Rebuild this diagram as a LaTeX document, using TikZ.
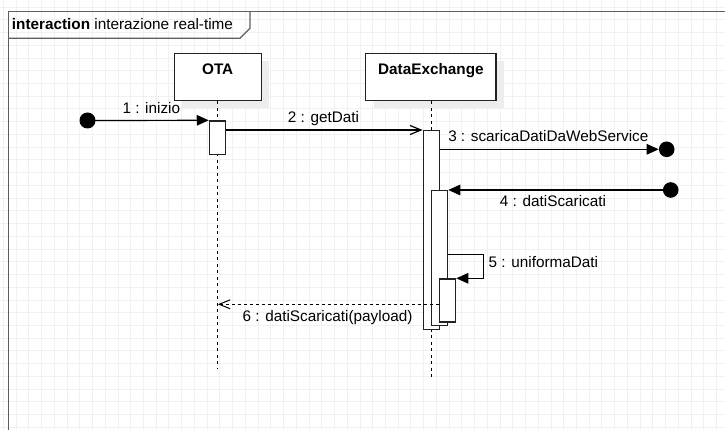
\documentclass[tikz,border=0pt]{standalone}
\usepackage{fontspec}
\setmainfont{Liberation Sans}
\usetikzlibrary{arrows.meta,calc}
\definecolor{gridgray}{HTML}{F1F1F1}
\definecolor{framegray}{HTML}{5E5E5E}
\definecolor{shadowgray}{HTML}{EDEDED}
\definecolor{edgegray}{HTML}{222222}

\begin{document}
\begin{tikzpicture}[x=1pt,y=-1pt,
  txt/.style={font=\fontsize{15.3}{18}\selectfont, inner sep=0pt, anchor=base},
  headbox/.style={draw=edgegray, line width=1.4pt, fill=white, inner sep=0pt},
  actbox/.style={draw=edgegray, line width=1.3pt, fill=white, minimum width=16pt, inner sep=0pt, anchor=north},
  dot/.style={circle, fill=black, inner sep=0pt, minimum size=16pt},
  lifeline/.style={line width=1pt, dash pattern=on 3pt off 3.5pt},
  msg/.style={line width=1.2pt, -{Triangle[length=12pt,width=10.5pt]}},
  call/.style={line width=1.2pt, -{Straight Barb[length=11pt,width=9pt]}},
  reply/.style={line width=1pt, dash pattern=on 3pt off 3pt, -{Straight Barb[length=11pt,width=9pt]}}]

% canvas and grid
\useasboundingbox (0,0) rectangle (725,430);
\fill[white] (-6,-6) rectangle (731,436);
\begin{scope}
\clip (0,0) rectangle (725,430);
\foreach \i in {0,...,56}
  \draw[gridgray, line width=0.7pt] ({3.27+\i*12.735},0) -- ++(0,430);
\foreach \j in {0,...,33}
  \draw[gridgray, line width=0.7pt] (0,{6.95+\j*12.735}) -- ++(725,0);

% interaction frame with its name tab
\draw[framegray, line width=1.6pt] (8.5,440) -- (8.5,11.7) -- (740,11.7);
\end{scope}
\draw[framegray, line width=1.2pt] (8.5,38.3) -- (240,38.3) -- (250,28.3) -- (250,11.7);
\node[txt, anchor=base west] (title) at (11.7,29.3) {\textbf{interaction} interazione real-time};

% lifeline heads
\fill[shadowgray] (182.3,61.3) rectangle (269.3,108.3);
\fill[shadowgray] (373.7,61.3) rectangle (504,108.3);
\node[headbox, minimum width=87pt, minimum height=47.4pt] (ota) at (217.7,77) {};
\node[headbox, minimum width=130.3pt, minimum height=47.4pt] (dx) at (430.9,77) {};
\node[txt] (otaname) at (217.7,74.4) {\textbf{OTA}};
\node[txt] (dxname) at (430.9,74.4) {\textbf{DataExchange}};

% lifelines
\coordinate (otaend) at (217.9,368);
\coordinate (dxend) at (431.4,377);
\draw[lifeline] (ota.south -| otaend) -- (otaend);
\draw[lifeline] (dx.south -| dxend) -- (dxend);

% activations
\node[actbox, minimum height=33.7pt] (otaact) at (217.4,120.3) {};
\node[actbox, minimum height=198.7pt] (dxa) at (431.3,130) {};
\node[actbox, minimum height=135pt] (dxb) at (439.6,190) {};
\node[actbox, minimum height=43pt] (dxc) at (447.6,278.3) {};

% found / lost message ends
\node[dot] (src1) at (87.5,120.5) {};
\node[dot, minimum size=15.6pt] (sink3) at (666.7,149.3) {};
\node[dot, minimum size=15.6pt] (src4) at (670.7,190) {};
\coordinate (loop5) at (483.3,254.3);
\coordinate (ret6) at (217.9,304.3);

% messages
\draw[msg] (src1.center) -- (otaact.north west);
\draw[call] (otaact.east |- dxa.north) -- (dxa.north west);
\draw[msg] (dxa.east |- sink3) -- (sink3.west);
\draw[msg] (src4.center) -- (dxb.north east);
\draw[msg] (dxb.east |- loop5) -- (loop5) |- (dxc.north east);
\draw[reply] (dxc.west |- ret6) -- (ret6);

% message labels
\node[txt] (m1) at (151.3,113.8) {1 : inizio};
\node[txt] (m2) at (323.5,122.8) {2 : getDati};
\node[txt] (m3) at (548.3,141.7) {3 : scaricaDatiDaWebService};
\node[txt] (m4) at (553,206.5) {4 : datiScaricati};
\node[txt, anchor=base west] (m5) at (488.5,267.3) {5 : uniformaDati};
\node[txt] (m6) at (327.5,321.6) {6 : datiScaricati(payload)};
\end{tikzpicture}
\end{document}
